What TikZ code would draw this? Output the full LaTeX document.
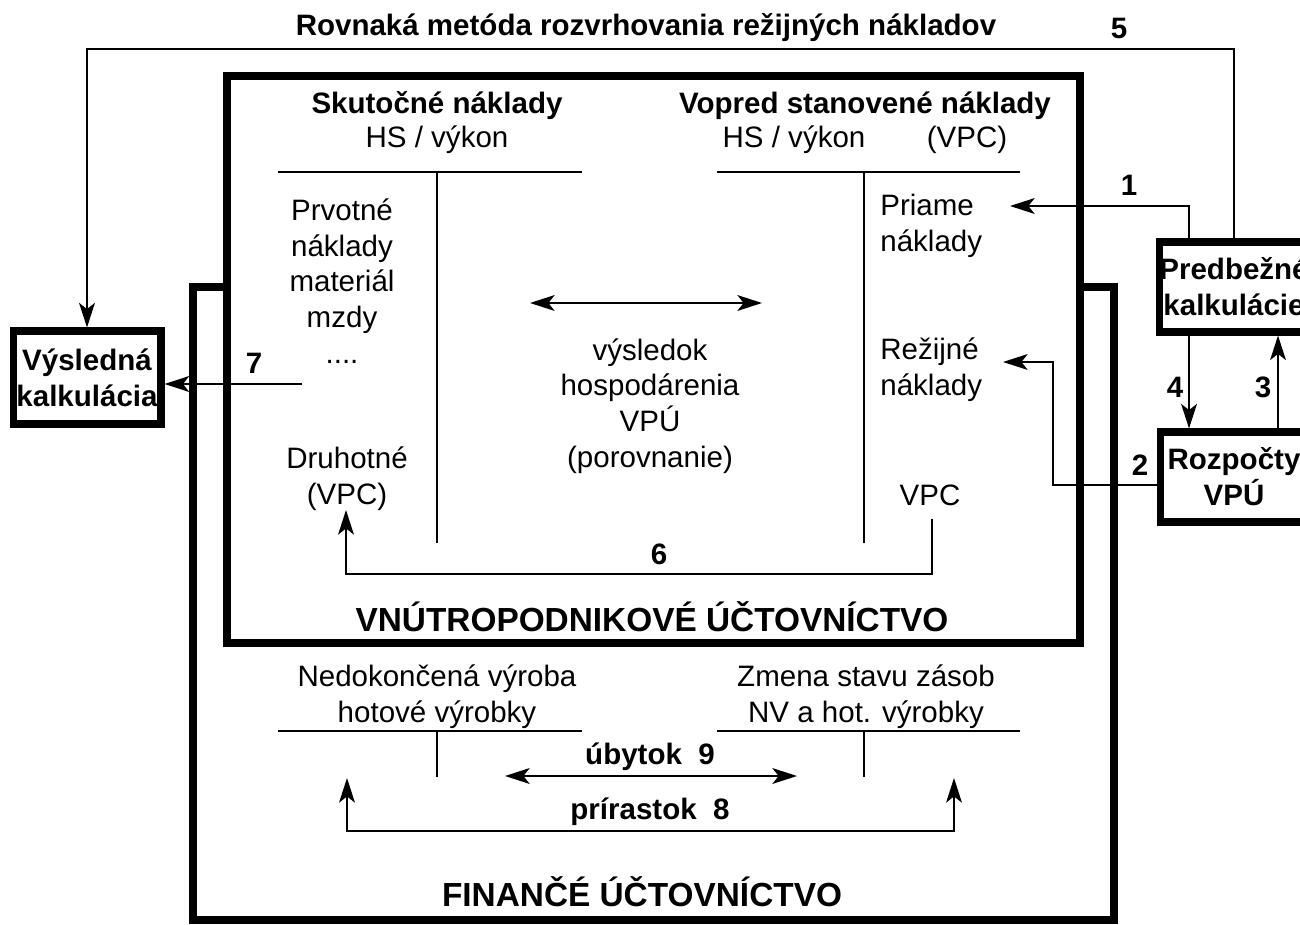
\documentclass[tikz,border=0pt]{standalone}
\usepackage{fontspec}
\setmainfont{Liberation Sans}
\usepackage{xcolor}
\colorlet{colorFrame}{black}
\colorlet{colorArrow}{black}
\usepackage{tikz}
\usetikzlibrary{arrows.meta, positioning}
\tikzset{
  txt/.style={font=\fontsize{16.8}{20.4}\selectfont, align=center, inner sep=0pt},
  lbl/.style={txt, font=\fontsize{16.8}{20.4}\selectfont\bfseries},
  head/.style={txt, font=\fontsize{19}{23}\selectfont\bfseries},
  frame/.style={draw=colorFrame, line width=4.5pt, fill=white},
  calcbox/.style={draw=colorFrame, line width=4pt, fill=white, inner sep=0pt, align=center,
    font=\fontsize{16.8}{20.4}\selectfont\bfseries, minimum width=2.96cm},
  tline/.style={line width=1.1pt},
  arr/.style={->, line width=0.9pt, draw=colorArrow}
}

\begin{document}
\begin{tikzpicture}[>={Stealth[length=14pt,width=9pt,inset=3.5pt]}, x=0.02cm, y=-0.02cm]
\useasboundingbox (0,0) rectangle (1300,925);
% frames
\node[frame, minimum width=18.42cm, minimum height=12.66cm] (fin) at (653.5,603.5) {};
\node[frame, minimum width=17.08cm, minimum height=11.34cm] (vnu) at (653.5,359.5) {};
\node[calcbox, minimum height=1.86cm] (vys) at (87,377.5) {V\'ysledn\'a\\kalkul\'acia};
\node[calcbox, minimum height=1.8cm] (pred) at (1234,287) {Predbe\v{z}n\'e\\kalkul\'acie};
\node[calcbox, minimum height=1.8cm] (roz) at (1234,477) {Rozpo\v{c}ty\\VP\'U};
% texts of the upper frame
\node[lbl] (rovn) at (646,28) {Rovnak\'a met\'oda rozvrhovania re\v{z}ijn\'ych n\'akladov};
\node[lbl] (l5) at (1119,28) {5};
\node[lbl] (skut) at (437,106) {Skuto\v{c}n\'e n\'aklady};
\node[txt] (hsl) at (437,140) {HS / v\'ykon};
\node[lbl] (vopr) at (865,106) {Vopred stanoven\'e n\'aklady};
\node[txt] (hsr) at (794,140) {HS / v\'ykon};
\node[txt] (vpch) at (967,140) {(VPC)};
\node[txt] (prv) at (342,281) {Prvotn\'e\\n\'aklady\\materi\'al\\mzdy\\....};
\node[txt] (druh) at (347,479) {Druhotn\'e\\(VPC)};
\node[txt] (vysl) at (650,406) {v\'ysledok\\hospod\'arenia\\VP\'U\\(porovnanie)};
\node[txt, align=left, anchor=west] (priame) at (880,226) {Priame\\n\'aklady};
\node[txt, align=left, anchor=west] (rezij) at (880,370) {Re\v{z}ijn\'e\\n\'aklady};
\node[txt] (vpc) at (930,495) {VPC};
\node[head] (tvnu) at (652,617) {VN\'UTROPODNIKOV\'E \'U\v{C}TOVN\'ICTVO};
% texts of the lower frame
\node[txt] (nedo) at (437,697) {Nedokon\v{c}en\'a v\'yroba\\hotov\'e v\'yrobky};
\node[txt] (zmena) at (866,697) {Zmena stavu z\'asob\\NV a hot. v\'yrobky};
\node[lbl] (uby) at (650,757) {\'ubytok~~9};
\node[lbl] (prir) at (650,812) {pr\'irastok~~8};
\node[head] (tfin) at (642,892) {FINAN\v{C}\'E \'U\v{C}TOVN\'ICTVO};
% numbers
\node[lbl] (l1) at (1129,185) {1};
\node[lbl] (l2) at (1140,465) {2};
\node[lbl] (l3) at (1263,387) {3};
\node[lbl] (l4) at (1175,387) {4};
\node[lbl] (l6) at (659,554) {6};
\node[lbl] (l7) at (254,363) {7};
% T accounts
\draw[tline] (278,172) -- (582,172) (437,172) -- (437,543);
\draw[tline] (717,172) -- (1020,172) (864,172) -- (864,543);
\draw[tline] (278,731) -- (582,731) (437,731) -- (437,777);
\draw[tline] (717,731) -- (1020,731) (864,731) -- (864,777);
% connectors
\coordinate (top5) at (87,49);
\coordinate (tip1) at (1010,206);
\coordinate (bend2) at (1053,362);
\coordinate (tip2) at (1003,362);
\coordinate (src7) at (302,384);
\coordinate (src6) at (932,519);
\coordinate (c6) at (346,574);
\coordinate (tip6) at (346,510);
\coordinate (tip8l) at (347,778);
\coordinate (c8) at (954,831);
\coordinate (tip8r) at (954,778);
\draw[arr] (pred.north) |- (top5) -- (vys.north);
\draw[arr] ([xshift=-0.9cm]pred.north) |- (tip1);
\draw[arr] ([xshift=-0.9cm]pred.south) -- ([xshift=-0.9cm]roz.north);
\draw[arr] ([xshift=0.88cm]roz.north) -- ([xshift=0.88cm]pred.south);
\draw[arr] ([yshift=-0.16cm]roz.west) -| (bend2) -- (tip2);
\draw[arr] (src7) -- (src7 -| vys.east);
\draw[arr] (src6) |- (c6) -- (tip6);
\draw[arr, <->] (530,303) coordinate (a0) -- (762,303) coordinate (b0);
\draw[arr, <->] (505,776) coordinate (a9) -- (797,776) coordinate (b9);
\draw[arr, <->] (tip8l) |- (c8) -- (tip8r);
\end{tikzpicture}
\end{document}
